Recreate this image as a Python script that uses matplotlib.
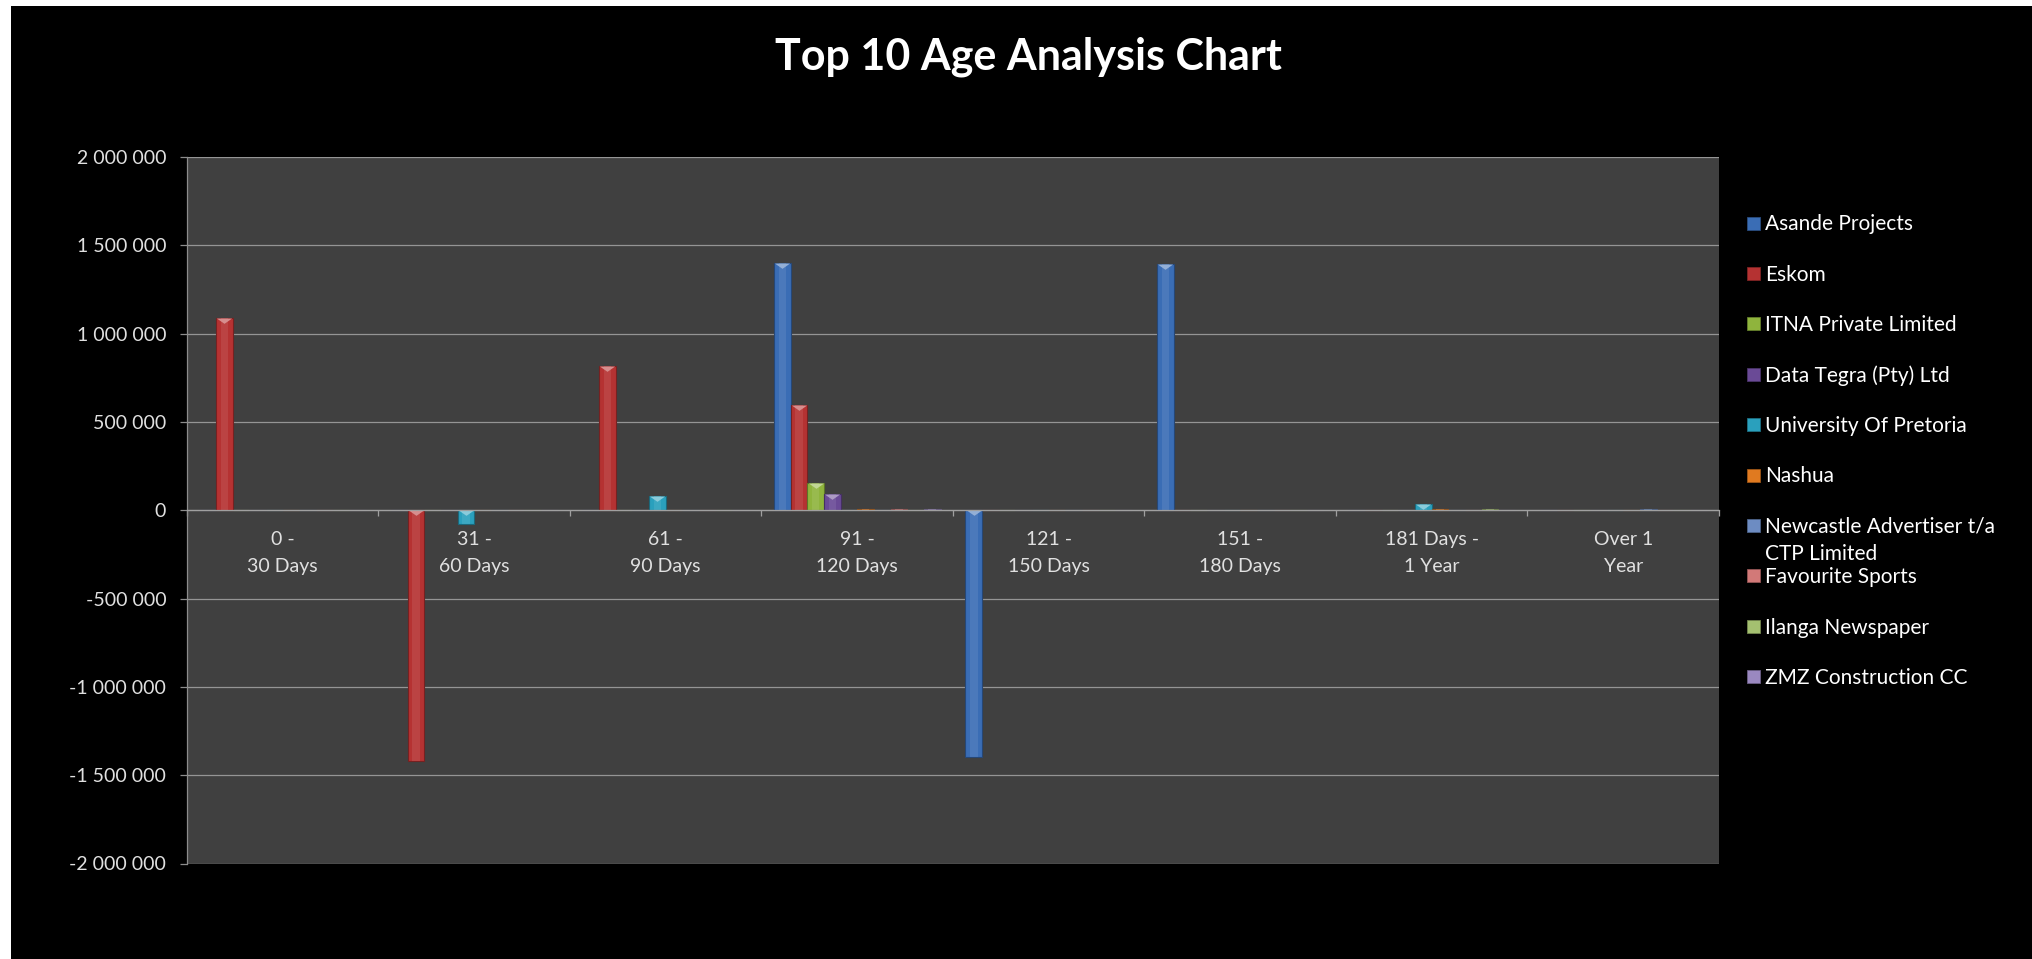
import matplotlib
matplotlib.use("Agg")
import matplotlib.pyplot as plt
import matplotlib.ticker as mticker
import numpy as np
from matplotlib.colors import to_rgb
from matplotlib.patches import Rectangle

plt.rcParams["font.family"] = ["Lato", "DejaVu Sans"]

# ---------------------------------------------------------------------------
# Data
# ---------------------------------------------------------------------------
CATEGORIES = ["0 -\n30 Days", "31 -\n60 Days", "61 -\n90 Days", "91 -\n120 Days",
              "121 -\n150 Days", "151 -\n180 Days", "181 Days -\n1 Year", "Over 1\nYear"]

SERIES_NAMES = ["Asande Projects", "Eskom", "ITNA Private Limited",
                "Data Tegra (Pty) Ltd", "University Of Pretoria", "Nashua",
                "Newcastle Advertiser t/a\nCTP Limited", "Favourite Sports",
                "Ilanga Newspaper", "ZMZ Construction CC"]

ASANDE     = [0, 0, 0, 1400000, -1395000, 1395000, 0, 0]
ESKOM      = [1088000, -1418000, 815000, 595000, 0, 0, 0, 0]
ITNA       = [0, 0, 0, 156000, 0, 0, 0, 0]
DATA_TEGRA = [0, 0, 0, 90000, 0, 0, 0, 0]
UNIVERSITY = [0, -80000, 81000, 0, 0, 0, 35000, 0]
NASHUA     = [0, 0, 4000, 5000, 0, 0, 9000, 3000]
NEWCASTLE  = [0, 0, 0, 0, 0, 0, 0, 7000]
FAVOURITE  = [0, 0, 0, 5000, 0, 0, 0, 0]
ILANGA     = [0, 0, 0, 0, 0, 0, 6000, 0]
ZMZ        = [0, 0, 0, 5000, 0, 0, 0, 0]

SERIES = [ASANDE, ESKOM, ITNA, DATA_TEGRA, UNIVERSITY, NASHUA,
          NEWCASTLE, FAVOURITE, ILANGA, ZMZ]

COLORS = ["#3a6db5", "#b53232", "#8fb43d", "#6a4a96", "#2aa0bd",
          "#e07a20", "#6d8cc2", "#d27978", "#a4c070", "#9a88c0"]

TITLE = "Top 10 Age Analysis Chart"


def _shade(c, f):
    r = np.array(to_rgb(c))
    if f >= 0:
        return tuple(r + (1 - r) * f)
    return tuple(r * (1 + f))


# ---------------------------------------------------------------------------
# Figure
# ---------------------------------------------------------------------------
W, H = 2033, 959
fig = plt.figure(figsize=(W / 100, H / 100), dpi=100, facecolor="white")
fig.patches.append(Rectangle((11 / W, 0), 1, (H - 6) / H, transform=fig.transFigure,
                             facecolor="black", edgecolor="none", zorder=-10))

ax = fig.add_axes([187 / W, (H - 863.5) / H, (1719 - 187) / W, (863.5 - 157) / H])
ax.set_facecolor("#404040")

n = len(SERIES)
bw = 1.0 / (n + 1.5)
x0 = np.arange(len(CATEGORIES))
tri = [(-1, 0), (1, 0), (0, -0.7), (-1, 0)]

for i, (vals, col) in enumerate(zip(SERIES, COLORS)):
    vals = np.array(vals, dtype=float)
    xs = x0 + (i - (n - 1) / 2) * bw
    ax.bar(xs, vals, bw, color=col, edgecolor=_shade(col, -0.35),
           linewidth=0.8, zorder=3)
    ax.bar(xs, vals, bw * 0.45, color=_shade(col, 0.25), alpha=0.35,
           linewidth=0, zorder=4)
    big = np.abs(vals) > 20000
    if big.any():
        ax.plot(xs[big], np.maximum(vals[big], 0), linestyle="none",
                marker=tri, markersize=11, color=_shade(col, 0.45),
                markeredgewidth=0, zorder=5)

ax.set_xlim(-0.5, len(CATEGORIES) - 0.5)
ax.set_ylim(-2000000, 2000000)
ax.yaxis.set_major_locator(mticker.MultipleLocator(500000))
ax.yaxis.set_major_formatter(
    mticker.FuncFormatter(lambda v, _: f"{v:,.0f}".replace(",", " ")))
ax.grid(axis="y", color="#959595", linewidth=0.9, zorder=1)
ax.set_axisbelow(True)

for s in ["top", "right"]:
    ax.spines[s].set_visible(False)
ax.spines["left"].set_color("#8c8c8c")
ax.spines["left"].set_linewidth(0.9)
ax.spines["bottom"].set_position(("data", 0))
ax.spines["bottom"].set_color("#a0a0a0")
ax.spines["bottom"].set_linewidth(0.9)
ax.spines["bottom"].set_zorder(6)

ax.set_xticks(x0)
ax.set_xticklabels(CATEGORIES, linespacing=1.68)
ax.set_xticks(np.arange(-0.5, len(CATEGORIES), 1.0), minor=True)
ax.tick_params(axis="x", which="major", length=0, pad=15,
               labelsize=14, labelcolor="#e0e0e0")
ax.tick_params(axis="x", which="minor", length=4, direction="out",
               color="#a0a0a0", width=0.9)
ax.tick_params(axis="y", length=5, width=0.9, color="#8c8c8c", pad=10,
               labelsize=14, labelcolor="#e0e0e0")

fig.text(1028.5 / W, 1 - 57 / H, TITLE, ha="center", va="center",
         fontsize=31, fontweight="bold", color="white")

# Legend (one entry per series, evenly spaced; wrapped names overflow downwards)
for k, (name, col) in enumerate(zip(SERIES_NAMES, COLORS)):
    yc = 223 + k * 50.4
    fig.patches.append(Rectangle((1747 / W, 1 - (yc + 6.5) / H), 13 / W, 13 / H,
                                 transform=fig.transFigure, facecolor=col,
                                 edgecolor=_shade(col, -0.3), linewidth=0.6))
    for j, line in enumerate(name.split("\n")):
        fig.text(1765 / W, 1 - (yc + 7.5 + j * 27) / H, line, ha="left",
                 va="baseline", fontsize=15, color="white")

fig.savefig("out.png", dpi=100, facecolor=fig.get_facecolor())
